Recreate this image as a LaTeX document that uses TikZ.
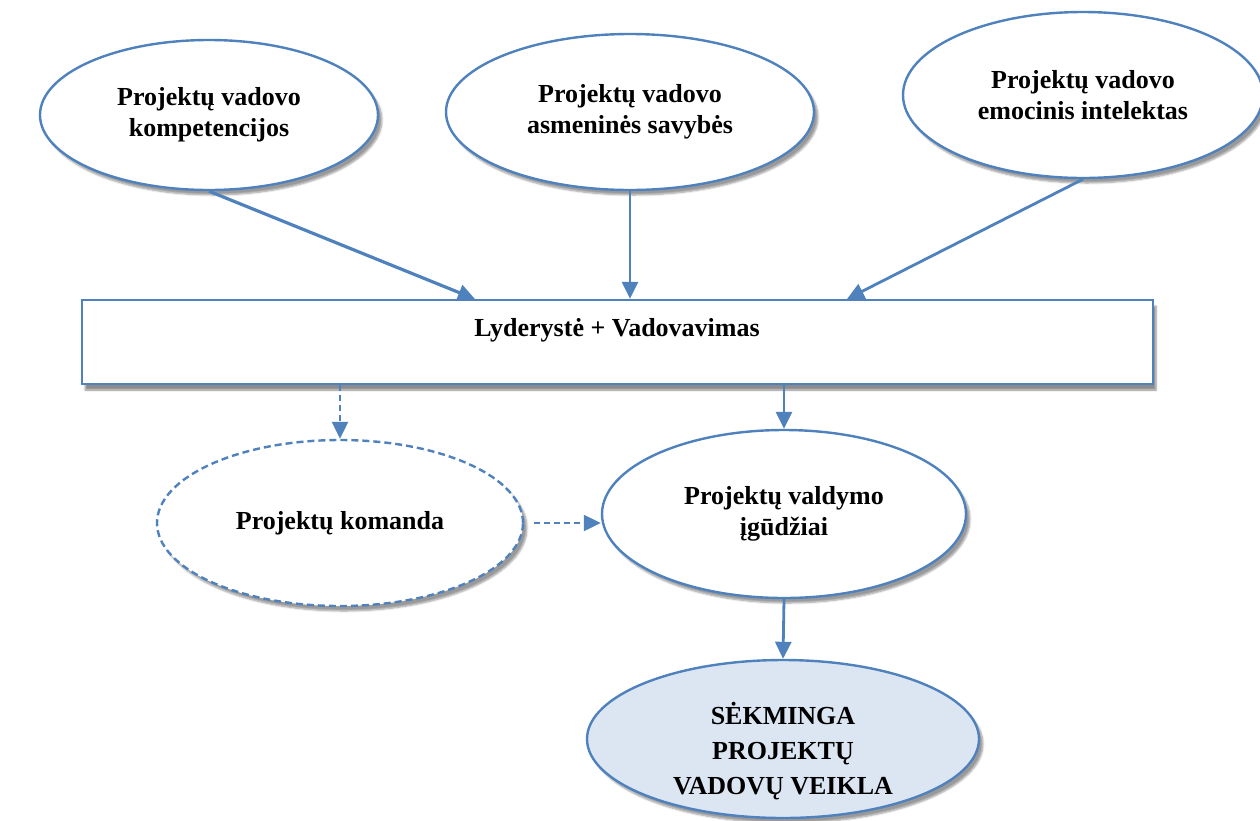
\documentclass[tikz,border=0pt]{standalone}
\usepackage{fontspec}
\setmainfont{Liberation Serif}
\usetikzlibrary{shapes.geometric,arrows.meta,shadows.blur}
\definecolor{lineblue}{HTML}{4F81BD}
\definecolor{fillblue}{HTML}{DCE6F2}
\tikzset{
  oval/.style={ellipse, draw=lineblue, line width=2.4pt, fill=white, inner sep=0pt,
    align=center, font=\fontsize{26}{31}\selectfont\bfseries,
    blur shadow={shadow xshift=4pt, shadow yshift=-5pt, shadow blur steps=6, shadow opacity=40}},
  dashoval/.style={oval, dash pattern=on 7pt off 4pt},
  box/.style={rectangle, draw=lineblue, line width=2.4pt, fill=white, inner sep=0pt,
    blur shadow={shadow xshift=3pt, shadow yshift=-6pt, shadow blur steps=6, shadow opacity=45}},
  lbl/.style={align=center, inner sep=0pt, font=\fontsize{26}{31}\selectfont\bfseries},
  arr/.style={draw=lineblue, line width=2.8pt, -{Triangle[length=17pt,width=16pt]}},
  darr/.style={draw=lineblue, line width=2.2pt, dash pattern=on 6pt off 4pt, -{Triangle[length=17pt,width=16pt]}}
}
\begin{document}
\begin{tikzpicture}[x=1pt,y=-1pt]
\useasboundingbox (0,0) rectangle (1260,820);
\node[oval, minimum width=338pt, minimum height=150pt] (e1) at (209,115) {Projektų vadovo\\kompetencijos};
\node[oval, minimum width=368pt, minimum height=156pt] (e2) at (630,112) {Projektų vadovo\\asmeninės savybės};
\node[oval, minimum width=360pt, minimum height=166pt] (e3) at (1083,95) {Projektų vadovo\\emocinis intelektas};
\node[box, minimum width=1071pt, minimum height=84pt] (rect) at (617.5,342) {};
\node[lbl] (lv) at (617,330) {Lyderystė + Vadovavimas};
\node[dashoval, minimum width=366pt, minimum height=166pt] (e4) at (340,523) {Projektų komanda};
\node[oval, minimum width=364pt, minimum height=168pt] (e5) at (784,514) {Projektų valdymo\\įgūdžiai};
\node[oval, fill=fillblue, minimum width=392pt, minimum height=158pt] (e6) at (783,739) {};
\node[lbl, font=\fontsize{26}{35}\selectfont\bfseries] (e6t) at (783,751) {SĖKMINGA\\PROJEKTŲ\\VADOVŲ VEIKLA};
\coordinate (t1) at (475,299);
\coordinate (t3) at (847,299);
\draw[arr, line width=3.2pt] (e1.south) -- (t1);
\draw[arr] (e2.south) -- (rect.north -| e2.south);
\draw[arr] (e3.south) -- (t3);
\draw[darr] (rect.south -| e4.north) -- (e4.north);
\draw[arr] (rect.south -| e5.north) -- (e5.north);
\draw[darr] ([xshift=10pt]e4.east) -- (e4.east -| e5.west);
\draw[arr] (e5.south) -- (e6.north);
\end{tikzpicture}
\end{document}
